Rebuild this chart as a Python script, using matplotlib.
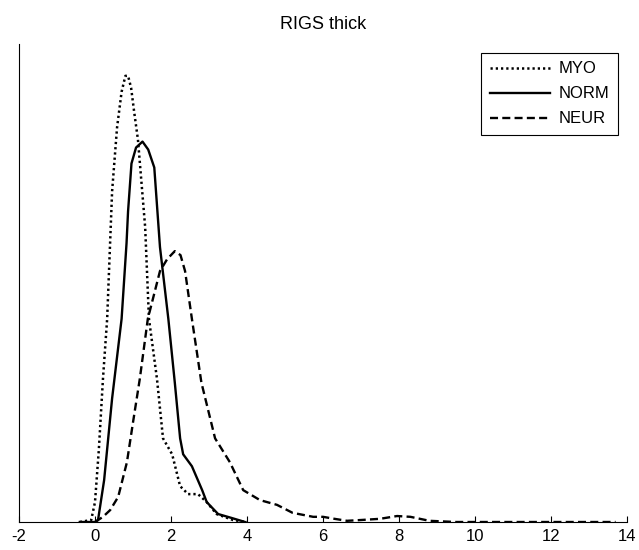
import matplotlib
matplotlib.use("Agg")
import matplotlib.pyplot as plt

plt.rcParams['font.family'] = ['Liberation Sans', 'DejaVu Sans']

# density estimates of thickness for each group
myo_x = [-0.4, -0.1, 0.0, 0.1, 0.21, 0.32, 0.45, 0.58, 0.7, 0.8, 0.87, 0.95,
         1.03, 1.13, 1.32, 1.42, 1.63, 1.79, 2.03, 2.24, 2.45, 2.71, 2.94,
         3.2, 3.63, 4.0]
myo_y = [0, 0.005, 0.05, 0.18, 0.36, 0.51, 0.83, 0.99, 1.08, 1.12, 1.12, 1.09,
         1.03, 0.96, 0.74, 0.51, 0.36, 0.21, 0.17, 0.09, 0.07, 0.07, 0.05,
         0.02, 0.005, 0]

norm_x = [-0.4, 0.0, 0.08, 0.24, 0.45, 0.70, 0.83, 0.87, 0.96, 1.08, 1.25,
          1.40, 1.56, 1.62, 1.71, 1.93, 2.1, 2.24, 2.32, 2.55, 2.82, 2.94,
          3.24, 3.6, 3.95]
norm_y = [0, 0, 0.005, 0.105, 0.31, 0.51, 0.70, 0.78, 0.90, 0.94, 0.955,
          0.935, 0.89, 0.81, 0.69, 0.51, 0.35, 0.21, 0.17, 0.14, 0.08, 0.05,
          0.02, 0.01, 0]

neur_x = [0.0, 0.21, 0.4, 0.61, 0.84, 1.0, 1.18, 1.39, 1.71, 1.9, 2.1, 2.25,
          2.37, 2.55, 2.8, 3.16, 3.55, 3.9, 4.34, 4.79, 5.2, 5.74, 6.0, 6.3,
          6.63, 7.0, 7.5, 7.95, 8.3, 8.8, 9.5, 10, 11, 12, 13, 13.7]
neur_y = [0, 0.013, 0.03, 0.063, 0.15, 0.25, 0.36, 0.51, 0.63, 0.66, 0.68,
          0.67, 0.63, 0.51, 0.35, 0.21, 0.15, 0.08, 0.055, 0.043, 0.023,
          0.013, 0.013, 0.008, 0.003, 0.005, 0.008, 0.015, 0.013, 0.003, 0,
          0, 0, 0, 0, 0]

xticks = [-2, 0, 2, 4, 6, 8, 10, 12, 14]

fig = plt.figure(figsize=(6.39, 5.5), dpi=100)
ax = fig.add_axes([19 / 639, 28 / 550, 608 / 639, 478 / 550])

ax.plot(myo_x, myo_y, color='black', lw=1.8, linestyle=(0, (0.9, 1.2)), label='MYO')
ax.plot(norm_x, norm_y, color='black', lw=1.7, linestyle='-', label='NORM')
ax.plot(neur_x, neur_y, color='black', lw=1.7, linestyle=(0, (3.4, 1.8)), label='NEUR')

ax.set_xlim(-2, 14)
ax.set_ylim(0, 1.2)
ax.set_xticks(xticks)
ax.set_xticklabels([str(t) for t in xticks], fontsize=12)
ax.set_yticks([])
ax.tick_params(axis='x', direction='in', length=4.5, width=0.8, pad=5)
ax.spines['top'].set_visible(False)
ax.spines['right'].set_visible(False)
ax.spines['left'].set_linewidth(0.8)
ax.spines['bottom'].set_linewidth(0.8)

ax.set_title('RIGS thick', fontsize=13, pad=11)

leg = ax.legend(loc='upper right', bbox_to_anchor=(0.985, 0.981),
                borderaxespad=0, fontsize=12, handlelength=3.6,
                handletextpad=0.55, labelspacing=0.6, fancybox=False,
                framealpha=1, edgecolor='black', borderpad=0.5)
leg.get_frame().set_linewidth(0.8)

fig.savefig('out.png', dpi=100)
